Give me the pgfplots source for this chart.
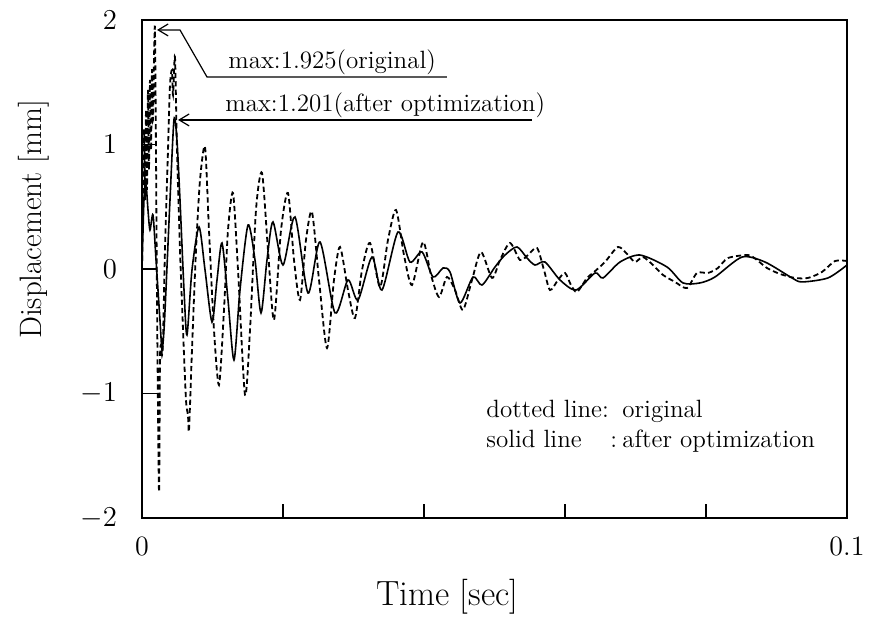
\documentclass[border=0pt]{standalone}
\usepackage{pgfplots}
\pgfplotsset{compat=1.18}
\usetikzlibrary{arrows.meta}
\begin{document}
\begin{tikzpicture}
\useasboundingbox (-71pt,-53pt) rectangle (365.5pt,259pt);
\begin{axis}[
  scale only axis,
  width=352.5pt, height=249pt,
  at={(0pt,0pt)}, anchor=south west,
  xmin=0, xmax=0.1, ymin=-2, ymax=2,
  axis line style={line width=0.9pt},
  xtick pos=bottom, ytick pos=left,
  xtick align=inside, ytick align=inside,
  major tick length=7pt,
  xtick style={line width=0.8pt, black},
  ytick style={line width=0.8pt, black},
  xtick={0,0.02,0.04,0.06,0.08,0.1},
  xticklabels={0,,,,,0.1},
  ytick={-2,-1,0,1,2},
  yticklabels={$-2$,$-1$,$0$,$1$,$2$},
  ticklabel style={font=\fontsize{14}{16}\selectfont},
  xticklabel style={yshift=-6pt},
  yticklabel style={xshift=-9pt},
  xlabel={Time [sec]},
  ylabel={Displacement [mm]},
  xlabel style={font=\fontsize{17.5}{20}\selectfont, at={(rel axis cs:0.433,0)}, anchor=center, yshift=-39.5pt},
  ylabel style={font=\fontsize{15.5}{18}\selectfont, at={(rel axis cs:0,0.60)}, anchor=center, yshift=54pt},
  clip=false,
]
% original (dashed)
\addplot[black, line width=0.9pt, dash pattern=on 2.6pt off 1.6pt, smooth, tension=0.45] coordinates {
(0,0) (0.00028,1.116) (0.00043,0.554) (0.00057,1.277) (0.00071,0.635) (0.00085,1.438)
(0.00099,0.795) (0.00113,1.518) (0.00128,0.956) (0.00142,1.598) (0.00156,1.197)
(0.00184,1.925) (0.00213,-0.249) (0.00241,-1.791) (0.00255,-0.731) (0.00270,-0.610)
(0.00284,-0.691) (0.00298,-0.570) (0.00326,0.153) (0.00369,0.956) (0.00397,1.478)
(0.00426,1.598) (0.00440,1.398) (0.00468,1.703) (0.00496,0.956) (0.00539,0.153)
(0.00582,-0.490) (0.00624,-1.052) (0.00652,-1.173) (0.00667,-1.293) (0.00709,-0.651)
(0.00766,0.153) (0.00823,0.715) (0.00894,0.980) (0.00950,0.313) (0.01021,-0.490)
(0.01092,-0.932) (0.01163,-0.329) (0.01220,0.313) (0.01291,0.610) (0.01362,-0.008)
(0.01461,-1.012) (0.01532,-0.490) (0.01617,0.474) (0.01702,0.771) (0.01787,0.153)
(0.01872,-0.410) (0.01972,0.313) (0.02071,0.610) (0.02156,0.072) (0.02241,-0.249)
(0.02326,0.233) (0.02411,0.458) (0.02511,-0.088) (0.02624,-0.635) (0.02723,-0.088)
(0.02809,0.177) (0.02922,-0.169) (0.03021,-0.394) (0.03121,-0.008) (0.03234,0.209)
(0.03376,-0.145) (0.03489,0.233) (0.03603,0.474) (0.03716,0.112) (0.03830,-0.129)
(0.03986,0.217) (0.04099,-0.048) (0.04213,-0.225) (0.04326,-0.064) (0.04440,-0.169)
(0.04553,-0.329) (0.04681,-0.088) (0.04809,0.137) (0.04965,-0.072) (0.05078,0.072)
(0.05220,0.209) (0.05362,0.072) (0.05475,0.112) (0.05603,0.169) (0.05702,-0.008)
(0.05787,-0.169) (0.05901,-0.088) (0.06000,-0.032) (0.06085,-0.129) (0.06170,-0.185)
(0.06312,-0.072) (0.06397,-0.032) (0.06567,0.056) (0.06752,0.177) (0.06894,0.112)
(0.06993,0.056) (0.07106,0.096) (0.07248,0.032) (0.07390,-0.048) (0.07560,-0.104)
(0.07730,-0.153) (0.07872,-0.032) (0.08028,-0.032) (0.08170,0.008) (0.08312,0.088)
(0.08596,0.112) (0.08723,0.072) (0.08865,0.008) (0.09050,-0.040) (0.09262,-0.072)
(0.09447,-0.072) (0.09645,-0.024) (0.09830,0.064) (0.1,0.064)
};
% after optimization (solid)
\addplot[black, line width=0.8pt, smooth, tension=0.45] coordinates {
(0,0) (0.00028,0.554) (0.00057,0.675) (0.00085,0.474) (0.00113,0.313) (0.00156,0.434)
(0.00199,0.072) (0.00255,-0.410) (0.00284,-0.651) (0.00312,-0.490) (0.00340,-0.169)
(0.00397,0.554) (0.00454,1.201) (0.00496,1.036) (0.00539,0.554) (0.00596,-0.169)
(0.00638,-0.530) (0.00709,-0.008) (0.00809,0.337) (0.00894,-0.008) (0.00993,-0.426)
(0.01064,-0.088) (0.01135,0.209) (0.01220,-0.249) (0.01305,-0.731) (0.01390,-0.169)
(0.01504,0.353) (0.01603,0.072) (0.01688,-0.353) (0.01773,0.072) (0.01858,0.378)
(0.02000,0.032) (0.02170,0.418) (0.02355,-0.193) (0.02525,0.217) (0.02738,-0.353)
(0.02922,-0.088) (0.03064,-0.249) (0.03262,0.096) (0.03404,-0.169) (0.03631,0.297)
(0.03801,0.056) (0.03972,0.137) (0.04128,-0.064) (0.04270,0.008) (0.04369,-0.024)
(0.04511,-0.273) (0.04695,-0.064) (0.04823,-0.129) (0.05007,0.016) (0.05149,0.112)
(0.05319,0.177) (0.05461,0.088) (0.05574,0.032) (0.05716,0.056) (0.05929,-0.088)
(0.06156,-0.169) (0.06426,-0.032) (0.06539,-0.072) (0.06780,0.056) (0.07064,0.112)
(0.07447,0.016) (0.07674,-0.112) (0.07915,-0.112) (0.08128,-0.064) (0.08511,0.096)
(0.08837,0.056) (0.09220,-0.072) (0.09362,-0.104) (0.09730,-0.072) (0.1,0.032)
};
% y tick marks (inward)
\draw[line width=0.8pt] (axis cs:0,1) -- ([xshift=7.5pt]axis cs:0,1);
\draw[line width=0.8pt] (axis cs:0,0) -- ([xshift=7.5pt]axis cs:0,0);
\draw[line width=0.8pt] (axis cs:0,-1) -- ([xshift=7.5pt]axis cs:0,-1);
% annotations
\draw[line width=0.6pt, {Straight Barb[length=5pt,width=6pt]}-] (axis cs:0.00213,1.92) -- (axis cs:0.00539,1.92) -- (axis cs:0.00922,1.542) -- (axis cs:0.04326,1.542);
\node[anchor=base west, inner sep=0pt, font=\fontsize{12.5}{15}\selectfont] at (axis cs:0.0122,1.61) {max:1.925(original)};
\draw[line width=0.6pt, {Straight Barb[length=5pt,width=6pt]}-] (axis cs:0.00511,1.197) -- (axis cs:0.05532,1.197);
\node[anchor=base west, inner sep=0pt, font=\fontsize{12.5}{15}\selectfont] at (axis cs:0.01177,1.261) {max:1.201(after optimization)};
\node[anchor=base west, inner sep=0pt, font=\fontsize{12.5}{15}\selectfont] at (axis cs:0.0488,-1.189) {\makebox[68pt][l]{dotted line:}original};
\node[anchor=base west, inner sep=0pt, font=\fontsize{12.5}{15}\selectfont] at (axis cs:0.0488,-1.43) {\makebox[62pt][l]{solid line}\makebox[6pt][l]{:}after optimization};
\end{axis}
\end{tikzpicture}
\end{document}
